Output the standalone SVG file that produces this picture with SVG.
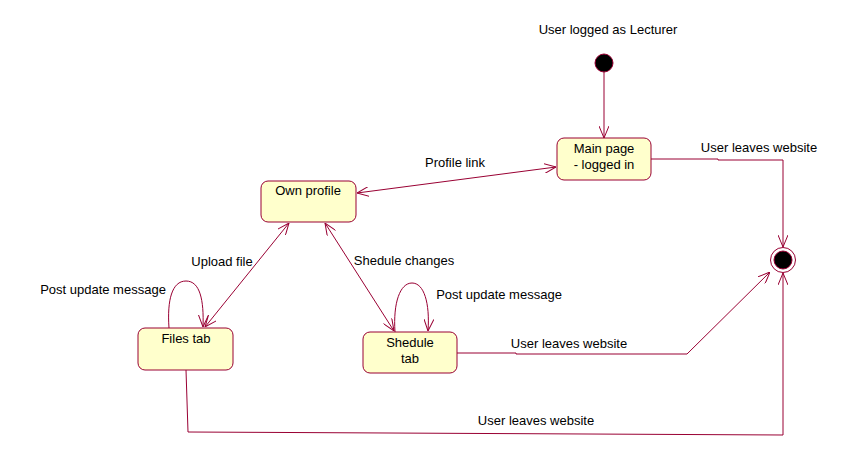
<svg xmlns="http://www.w3.org/2000/svg" width="859" height="466" viewBox="0 0 859 466">
<style>
.st{fill:#FFFFCC;stroke:#990033;stroke-width:1}
.ln{fill:none;stroke:#990033;stroke-width:1}
text{font-family:"Liberation Sans",Arial,sans-serif;font-size:13px;fill:#000}
.c{text-anchor:middle}
</style>
<defs>
<marker id="ah" viewBox="0 0 12 10" refX="12" refY="5" markerWidth="12" markerHeight="10" markerUnits="userSpaceOnUse" orient="auto-start-reverse">
<path d="M0,0 L12,5 L0,10" fill="none" stroke="#990033" stroke-width="1"/>
</marker>
</defs>
<rect width="859" height="466" fill="#fff"/>
<g id="connectors">
<line class="ln" x1="604" y1="72" x2="604" y2="138" marker-end="url(#ah)"/>
<line class="ln" x1="357" y1="193" x2="556" y2="167" marker-start="url(#ah)" marker-end="url(#ah)"/>
<polyline class="ln" points="651,159 718,159 718,160 783,160 783,247" marker-end="url(#ah)"/>
<line class="ln" x1="289" y1="223" x2="205" y2="327" marker-start="url(#ah)" marker-end="url(#ah)"/>
<line class="ln" x1="325" y1="223" x2="394" y2="331" marker-start="url(#ah)" marker-end="url(#ah)"/>
<path class="ln" d="M169,328 C167,300 172,281 186,281 C200,281 204,300 203,327" marker-end="url(#ah)"/>
<path class="ln" d="M395,332 C393,303 400,283 412,283 C424,283 430,303 428,331" marker-end="url(#ah)"/>
<polyline class="ln" points="457,353 516,353 516,354 687,354 770,272" marker-end="url(#ah)"/>
<polyline class="ln" points="186,370 188,432 783,435 783,273" marker-end="url(#ah)"/>
</g>
<g id="initial"><circle cx="604" cy="63" r="9" fill="#000" stroke="#990033"/></g>
<g id="final">
<circle cx="783" cy="260" r="12.5" fill="#fff" stroke="#990033"/>
<circle cx="783" cy="260" r="9" fill="#000" stroke="#990033"/>
</g>
<g id="mainpage">
<rect class="st" x="557" y="138" width="94" height="42" rx="7"/>
<text class="c" x="604" y="153">Main page</text>
<text class="c" x="604" y="169">- logged in</text>
</g>
<g id="ownprofile">
<rect class="st" x="261" y="181" width="95" height="41" rx="7"/>
<text class="c" x="308" y="195">Own profile</text>
</g>
<g id="filestab">
<rect class="st" x="138" y="328" width="95" height="42" rx="7"/>
<text class="c" x="186" y="343">Files tab</text>
</g>
<g id="sheduletab">
<rect class="st" x="363" y="332" width="94" height="41" rx="7"/>
<text class="c" x="410" y="347">Shedule</text>
<text class="c" x="410" y="363">tab</text>
</g>
<g id="labels">
<text class="c" x="608" y="34">User logged as Lecturer</text>
<text class="c" x="455" y="167">Profile link</text>
<text class="c" x="759" y="152">User leaves website</text>
<text class="c" x="222" y="266">Upload file</text>
<text class="c" x="404" y="265">Shedule changes</text>
<text class="c" x="103" y="294">Post update message</text>
<text class="c" x="499" y="299">Post update message</text>
<text class="c" x="569" y="348">User leaves website</text>
<text class="c" x="536" y="425">User leaves website</text>
</g>
</svg>
